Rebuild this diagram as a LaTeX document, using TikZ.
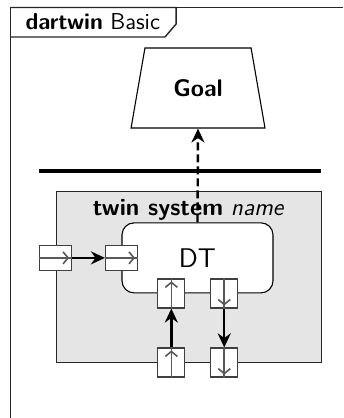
\documentclass[tikz,border=0pt]{standalone}
\usetikzlibrary{arrows.meta,shapes.geometric,positioning}
\begin{document}
\begin{tikzpicture}[font=\sffamily\fontsize{12}{14}\selectfont,line width=0.55pt,
    port/.style={draw=black!75,fill=white,inner sep=0pt,line width=0.6pt},
    hport/.style={port,minimum width=0.56cm,minimum height=0.44cm},
    vport/.style={port,minimum width=0.475cm,minimum height=0.51cm},
    portline/.style={black!65,line width=0.8pt},
    flow/.style={line width=1.2pt,-{Stealth[length=7pt,width=6.5pt]}}]
    \useasboundingbox (-0.185,0.132) rectangle (5.843,-7.214);

    % frame and title tab
    \draw[black!85,line width=0.8pt] (5.843,0) -- (0,0) -- (0,-7.214);
    \draw[black!85,line width=0.7pt] (0,0) -- (2.91,0) -- (2.91,-0.29) -- (2.715,-0.518) -- (0,-0.518);
    \node[anchor=base west,inner sep=0pt,font=\sffamily\fontsize{11.5}{14}\selectfont]
      (title) at (0.255,-0.385) {\textbf{dartwin} Basic};

    % goal
    \node[draw,trapezium,trapezium stretches=true,trapezium angle=74.9,
      minimum width=2.355cm,minimum height=1.406cm,font=\sffamily\bfseries\fontsize{12}{14}\selectfont]
      (goal) at (3.295,-1.415) {Goal};

    \draw[line width=2.2pt] (0.5,-2.873) -- (5.457,-2.873);

    % twin system
    \node[draw=black!85,fill=black!10,line width=0.5pt,minimum width=4.657cm,minimum height=2.988cm]
      (twin) at (3.129,-4.736) {};
    \node[anchor=base,inner sep=0pt] (twinlabel) at (3.129,-3.66) {\textbf{twin system} \textit{name}};
    \node[draw,fill=white,rounded corners=6pt,minimum width=2.653cm,minimum height=1.23cm]
      (dt) at (3.286,-4.40) {\fontsize{13.5}{16}\selectfont DT};

    % ports
    \node[hport] (extin) at (twin.west |- dt) {};
    \node[hport] (dtin) at (dt.west) {};
    \node[vport] (dtup) at ([xshift=-0.46cm]dt.south) {};
    \node[vport] (dtdown) at ([xshift=0.47cm]dt.south) {};
    \node[vport] (extup) at (dtup |- twin.south) {};
    \node[vport] (extdown) at (dtdown |- twin.south) {};

    \foreach \p/\a/\b in {extin/west/east, dtin/west/east, dtup/south/north,
      extup/south/north, dtdown/north/south, extdown/north/south} {
      \draw[portline] (\p.\a) -- (\p.\b);
      \draw[portline,-{Straight Barb[length=2.5pt,width=6pt]},shorten >=1.5pt] (\p.\a) -- (\p.\b);
    }

    % flows
    \draw[flow] (extin) -- (dtin);
    \draw[flow] (extup) -- (dtup);
    \draw[flow] (dtdown) -- (extdown);
    \draw[flow,dash pattern=on 4pt off 2pt] (dt.north) -- (goal.south);
  \end{tikzpicture}
\end{document}
